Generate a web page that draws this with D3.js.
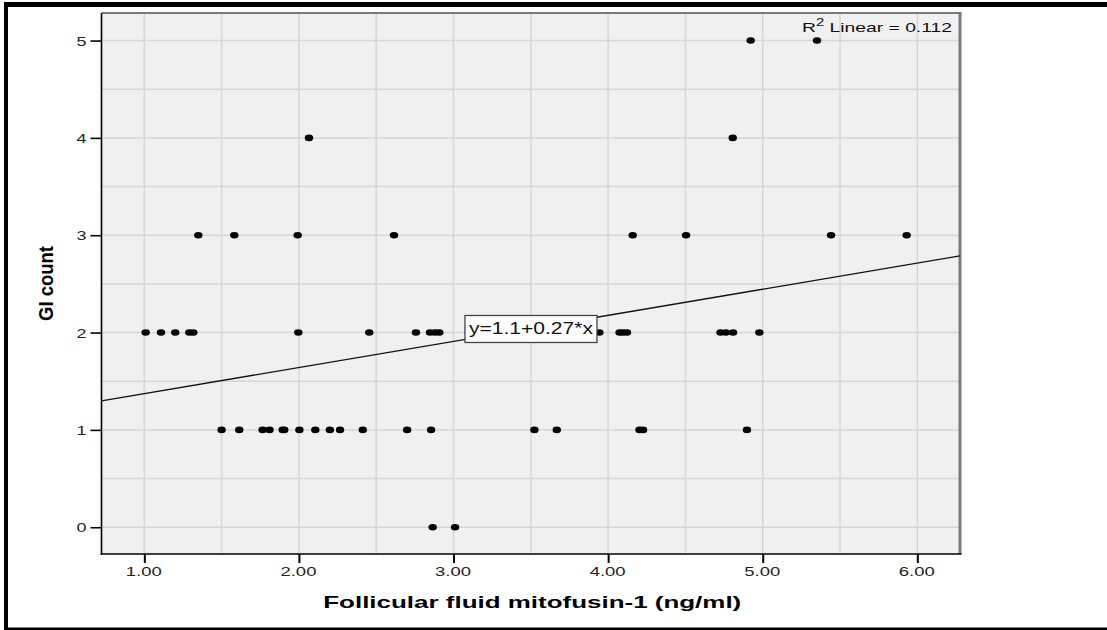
<!DOCTYPE html>
<html>
<head>
<meta charset="utf-8">
<script src="https://cdn.jsdelivr.net/npm/d3@7"></script>
<style>
  html, body { margin: 0; padding: 0; background: #fff; }
  svg { display: block; }
  text { font-family: "Liberation Sans", Arial, sans-serif; }
</style>
</head>
<body>
<svg id="chart" width="1107" height="630"></svg>
<script>
// ---------------- data ----------------
const xTickValues = [1, 2, 3, 4, 5, 6];
const xTickLabels = ["1.00", "2.00", "3.00", "4.00", "5.00", "6.00"];
const yTickValues = [0, 1, 2, 3, 4, 5];
const yTickLabels = ["0", "1", "2", "3", "4", "5"];

// Follicular fluid mitofusin-1 (ng/ml)
const mitofusin = [
  // GI = 0
  2.865, 3.01,
  // GI = 1
  1.50, 1.614, 1.765, 1.81, 1.895, 1.905, 2.003, 2.106, 2.20, 2.266, 2.413, 2.70, 2.855,
  3.523, 3.668, 4.203, 4.226, 4.898,
  // GI = 2
  1.009, 1.108, 1.20, 1.291, 1.317, 1.996, 2.455, 2.757, 2.848, 2.880, 2.908,
  3.943, 4.074, 4.097, 4.122, 4.727, 4.762, 4.808, 4.978,
  // GI = 3
  1.349, 1.582, 1.992, 2.615, 4.159, 4.504, 5.442, 5.931,
  // GI = 4
  2.065, 4.806,
  // GI = 5
  4.922, 5.351
];
// GI count
const giCount = [
  0, 0,
  1, 1, 1, 1, 1, 1, 1, 1, 1, 1, 1, 1, 1,
  1, 1, 1, 1, 1,
  2, 2, 2, 2, 2, 2, 2, 2, 2, 2, 2,
  2, 2, 2, 2, 2, 2, 2, 2,
  3, 3, 3, 3, 3, 3, 3, 3,
  4, 4,
  5, 5
];

const fitIntercept = 1.105;
const fitSlope = 0.268;
const fitLabel = "y=1.1+0.27*x";
const fitLabelAt = 3.074;        // x value where the equation box starts
const r2Label = ["R", "2", " Linear = 0.112"];
const xTitle = "Follicular fluid mitofusin-1 (ng/ml)";
const yTitle = "GI count";

// ---------------- layout ----------------
const plot = { left: 101.5, right: 960, top: 13, bottom: 554 };
const svg = d3.select("#chart");

const x = d3.scaleLinear().domain([0.723, 6.276]).range([plot.left, plot.right]);
const y = d3.scaleLinear().domain([-0.275, 5.283]).range([plot.bottom, plot.top]);

// outer frame
const frame = svg.append("g");
frame.append("line").attr("x1", 4).attr("x2", 1107).attr("y1", 4.6).attr("y2", 4.6)
  .attr("stroke", "#000").attr("stroke-width", 5);
frame.append("line").attr("x1", 6).attr("x2", 6).attr("y1", 2).attr("y2", 630)
  .attr("stroke", "#000").attr("stroke-width", 4);
frame.append("line").attr("x1", 4).attr("x2", 1107).attr("y1", 629).attr("y2", 629)
  .attr("stroke", "#000").attr("stroke-width", 3);

// plot background
svg.append("rect")
  .attr("x", plot.left).attr("y", plot.top)
  .attr("width", plot.right - plot.left).attr("height", plot.bottom - plot.top)
  .attr("fill", "#f0f0f0");

// grid lines every 0.5
const xGrid = d3.range(1, 6.01, 0.5);
const yGrid = d3.range(0, 5.01, 0.5);
const grid = svg.append("g").attr("stroke", "#d6d6d6").attr("stroke-width", 1.5);
grid.selectAll("line.v").data(xGrid).join("line").attr("class", "v")
  .attr("x1", d => x(d)).attr("x2", d => x(d))
  .attr("y1", plot.top).attr("y2", plot.bottom);
grid.selectAll("line.h").data(yGrid).join("line").attr("class", "h")
  .attr("x1", plot.left).attr("x2", plot.right)
  .attr("y1", d => y(d)).attr("y2", d => y(d));

// top / right frame of plot (grey)
svg.append("line").attr("x1", plot.left).attr("x2", plot.right + 1.5)
  .attr("y1", plot.top).attr("y2", plot.top)
  .attr("stroke", "#7a7a7a").attr("stroke-width", 2);
svg.append("line").attr("x1", plot.right).attr("x2", plot.right)
  .attr("y1", plot.top).attr("y2", plot.bottom)
  .attr("stroke", "#7a7a7a").attr("stroke-width", 3);

// regression line (clipped)
svg.append("clipPath").attr("id", "clip").append("rect")
  .attr("x", plot.left).attr("y", plot.top)
  .attr("width", plot.right - plot.left).attr("height", plot.bottom - plot.top);
const xd = x.domain();
svg.append("line")
  .attr("clip-path", "url(#clip)")
  .attr("x1", x(xd[0])).attr("y1", y(fitIntercept + fitSlope * xd[0]))
  .attr("x2", x(xd[1])).attr("y2", y(fitIntercept + fitSlope * xd[1]))
  .attr("stroke", "#111").attr("stroke-width", 1.3);

// points
const pts = mitofusin.map((v, i) => ({ x: v, y: giCount[i] }));
svg.append("g").selectAll("ellipse").data(pts).join("ellipse")
  .attr("cx", d => x(d.x)).attr("cy", d => y(d.y))
  .attr("rx", 4.2).attr("ry", 3.3).attr("fill", "#000");

// equation box
const bx = x(fitLabelAt);
const by = y(fitIntercept + fitSlope * fitLabelAt) + 3;
svg.append("rect")
  .attr("x", bx).attr("y", by - 27).attr("width", 132).attr("height", 27)
  .attr("fill", "#fff").attr("stroke", "#444").attr("stroke-width", 1.3);
svg.append("text")
  .attr("x", bx + 4).attr("y", by - 8)
  .attr("font-size", 16).attr("fill", "#111")
  .attr("textLength", 124).attr("lengthAdjust", "spacingAndGlyphs")
  .text(fitLabel);

// R² label
const r2 = svg.append("text")
  .attr("x", plot.right - 158).attr("y", plot.top + 18.7)
  .attr("font-size", 13).attr("fill", "#111")
  .attr("textLength", 150).attr("lengthAdjust", "spacingAndGlyphs");
r2.append("tspan").text(r2Label[0]);
r2.append("tspan").attr("dy", -6).attr("font-size", 10).text(r2Label[1]);
r2.append("tspan").attr("dy", 6).text(r2Label[2]);

// axes
const xAxis = d3.axisBottom(x).tickValues(xTickValues)
  .tickFormat((d, i) => xTickLabels[i]).tickSize(9).tickSizeOuter(0);
const gx = svg.append("g").attr("transform", `translate(0,${plot.bottom})`).call(xAxis);
gx.select(".domain").remove();
gx.selectAll(".tick line").attr("stroke", "#000").attr("stroke-width", 2);
gx.selectAll(".tick text")
  .attr("y", 22).attr("dy", 0).attr("x", -1)
  .attr("font-size", 13).attr("font-family", "Liberation Sans, Arial, sans-serif")
  .attr("fill", "#222")
  .attr("textLength", 36).attr("lengthAdjust", "spacingAndGlyphs");

const yAxis = d3.axisLeft(y).tickValues(yTickValues)
  .tickFormat((d, i) => yTickLabels[i]).tickSize(11).tickSizeOuter(0);
const gy = svg.append("g").attr("transform", `translate(${plot.left},0)`).call(yAxis);
gy.select(".domain").remove();
gy.selectAll(".tick line").attr("stroke", "#000").attr("stroke-width", 1.6);
gy.selectAll(".tick text")
  .attr("x", -15).attr("dy", "0.36em")
  .attr("font-size", 13).attr("font-family", "Liberation Sans, Arial, sans-serif")
  .attr("fill", "#222")
  .attr("textLength", 10).attr("lengthAdjust", "spacingAndGlyphs");

// axis lines (black)
svg.append("line").attr("x1", plot.left).attr("x2", plot.left)
  .attr("y1", plot.top).attr("y2", plot.bottom + 0.8)
  .attr("stroke", "#000").attr("stroke-width", 1.6);
svg.append("line").attr("x1", plot.left - 0.8).attr("x2", plot.right + 1.5)
  .attr("y1", plot.bottom).attr("y2", plot.bottom)
  .attr("stroke", "#000").attr("stroke-width", 1.6);

// axis titles
svg.append("text")
  .attr("x", (plot.left + plot.right) / 2 + 1.5).attr("y", 608)
  .attr("text-anchor", "middle")
  .attr("font-size", 17).attr("font-weight", "bold").attr("fill", "#000")
  .attr("textLength", 418).attr("lengthAdjust", "spacingAndGlyphs")
  .text(xTitle);

svg.append("text")
  .attr("transform", `translate(46,${(plot.top + plot.bottom) / 2}) scale(1.3,1) rotate(-90)`)
  .attr("text-anchor", "middle").attr("dominant-baseline", "central")
  .attr("font-size", 16).attr("font-weight", "bold").attr("fill", "#000")
  .attr("textLength", 75).attr("lengthAdjust", "spacingAndGlyphs")
  .text(yTitle);
</script>
</body>
</html>
